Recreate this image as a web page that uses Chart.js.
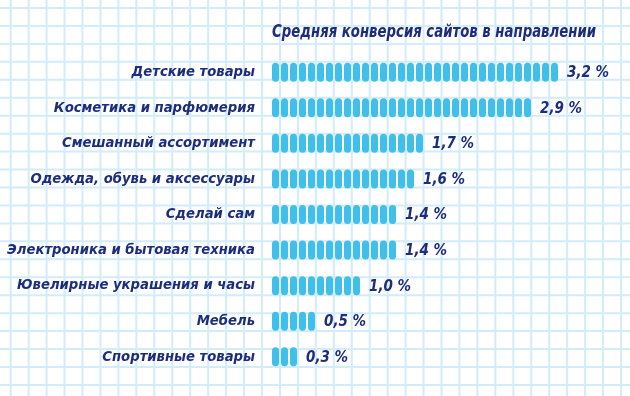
<!DOCTYPE html>
<html>
<head>
<meta charset="utf-8">
<script src="https://cdn.jsdelivr.net/npm/chart.js@4.4.0/dist/chart.umd.min.js"></script>
<style>
  html, body { margin: 0; padding: 0; background: #fff; }
  #wrap { width: 630px; height: 396px; }
</style>
</head>
<body>
<div id="wrap"><canvas id="conv"></canvas></div>
<script>
// данные
var categories = [
    'Детские товары',
    'Косметика и парфюмерия',
    'Смешанный ассортимент',
    'Одежда, обувь и аксессуары',
    'Сделай сам',
    'Электроника и бытовая техника',
    'Ювелирные украшения и часы',
    'Мебель',
    'Спортивные товары'
];
var conversion = [3.2, 2.9, 1.7, 1.6, 1.4, 1.4, 1.0, 0.5, 0.3];
var valueLabels = ['3,2 %', '2,9 %', '1,7 %', '1,6 %', '1,4 %', '1,4 %', '1,0 %', '0,5 %', '0,3 %'];

var ink = '#1d2d7e';
var dashColor = '#3fbfe9';
var fontFam = "'Liberation Sans Narrow', 'DejaVu Sans Condensed', sans-serif";

// клетчатая бумага
var paperPlugin = {
    id: 'paper',
    beforeDraw: function(chart) {
        var c = chart.ctx;
        c.save();
        c.fillStyle = '#ffffff';
        c.fillRect(0, 0, chart.width, chart.height);
        c.strokeStyle = '#d2ecfa';
        c.lineWidth = 2;
        var step = 17.95;
        c.beginPath();
        for (var x = 10.7; x < chart.width + 2; x += step) {
            c.moveTo(x, 0); c.lineTo(x, chart.height);
        }
        for (var y = 8; y < chart.height + 2; y += step) {
            c.moveTo(0, y); c.lineTo(chart.width, y);
        }
        c.stroke();
        c.restore();
    }
};

// полоски-штрихи вместо сплошных столбиков + подписи
var dashPlugin = {
    id: 'dashes',
    afterDatasetsDraw: function(chart) {
        var c = chart.ctx;
        var meta = chart.getDatasetMeta(0);
        c.save();
        meta.data.forEach(function(bar, i) {
            var left = bar.base, right = bar.x;
            var h = bar.height, top = bar.y - h / 2;
            var w = 7, gap = 2;
            var n = Math.max(1, Math.round((right - left + gap) / (w + gap)));
            c.fillStyle = dashColor;
            for (var k = 0; k < n; k++) {
                c.beginPath();
                c.roundRect(left + k * (w + gap), top, w, h, 3.5);
                c.fill();
            }
            var end = left + n * (w + gap) - gap;
            c.fillStyle = ink;
            c.font = 'italic bold 15px ' + fontFam;
            c.textBaseline = 'middle';
            c.textAlign = 'left';
            c.fillText(valueLabels[i], end + 9, bar.y + 1);
        });
        c.restore();
    }
};

var ctx = document.getElementById('conv').getContext('2d');
ctx.chart = new Chart(ctx, {
    type: 'bar',
    data: {
        labels: categories,
        datasets: [{
            data: conversion,
            backgroundColor: 'rgba(0,0,0,0)',
            borderWidth: 0,
            barThickness: 19
        }]
    },
    options: {
        indexAxis: 'y',
        responsive: true,
        maintainAspectRatio: false,
        animation: false,
        layout: { padding: { left: 0, right: 34, top: 0, bottom: 21.4 } },
        scales: {
            x: { display: false, min: 0, max: 3.6 },
            y: {
                grid: { display: false },
                border: { display: false },
                afterFit: function(scale) { scale.width = 272; },
                ticks: {
                    padding: 9,
                    color: ink,
                    font: { family: fontFam, size: 14.7, style: 'italic', weight: 'bold' }
                }
            }
        },
        plugins: {
            legend: { display: false },
            tooltip: { enabled: false },
            title: {
                display: true,
                fullSize: false,
                align: 'start',
                text: 'Средняя конверсия сайтов в направлении',
                color: ink,
                font: { family: fontFam, size: 18, style: 'italic', weight: 'bold', lineHeight: 1.2 },
                padding: { top: 22, bottom: 10.8 }
            }
        }
    },
    plugins: [paperPlugin, dashPlugin]
});
</script>
</body>
</html>
